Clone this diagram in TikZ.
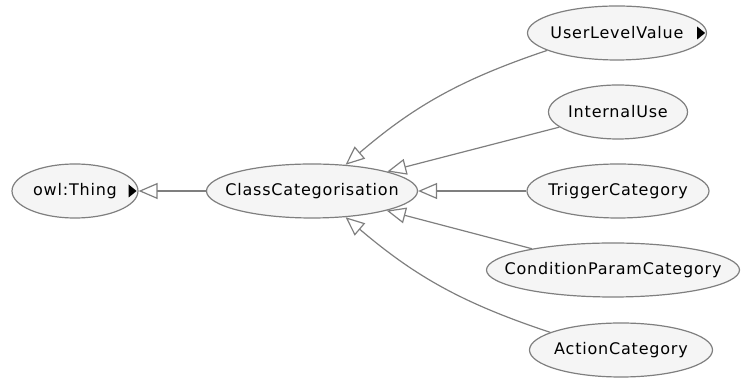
\documentclass[tikz,border=0pt]{standalone}
\usepackage{fontspec}
\setmainfont[LetterSpace=5]{DejaVu Sans}
\usepackage{tikz}
\usetikzlibrary{arrows.meta,shapes.geometric}
\definecolor{edgegray}{HTML}{7F7F7F}
\definecolor{nodefill}{HTML}{F5F5F5}
\tikzset{font={\fontsize{16pt}{19}\selectfont}}
\tikzstyle{classe}=[draw=edgegray,fill=nodefill,ellipse,line width=1.2pt,inner sep=0pt,minimum height=54pt,text=black]
\tikzstyle{isa}=[draw=edgegray,line width=1.2pt,-{Triangle[open,length=19pt,width=16pt]}]
\newcommand{\lbl}[1]{\makebox[0pt]{#1}}
\newcommand{\expandmark}[1]{\fill ([xshift=-10pt]#1.east) ++(0,6.5) -- ++(8,-6.5) -- ++(-8,-6.5) -- cycle;}

\begin{document}
\begin{tikzpicture}[x=1pt,y=1pt]
            \useasboundingbox (0,0) rectangle (741,379);
            \node[classe, minimum width=126pt] (thing) at (75,188) {\lbl{owl:Thing}};
            \node[classe, minimum width=211pt] (cc) at (312,188) {\lbl{ClassCategorisation}};
            %
            \node[classe, minimum width=179pt] (ulv) at (617,346) {\lbl{UserLevelValue}};
            \node[classe, minimum width=139pt] (iu) at (618,267) {\lbl{InternalUse}};
            \node[classe, minimum width=182pt] (tc) at (618,188) {\lbl{TriggerCategory}};
            \node[classe, minimum width=253pt] (cpc) at (613,109) {\lbl{ConditionParamCategory}};
            \node[classe, minimum width=183pt] (ac) at (621,29) {\lbl{ActionCategory}};
            %
            \expandmark{thing}
            \expandmark{ulv}
            %
            \path (cc) edge[isa] (thing);
            \path (ulv.194) edge[isa, bend right=11] (cc.38);
            \path (iu) edge[isa] (cc);
            \path (tc) edge[isa] (cc);
            \path (cpc) edge[isa] (cc);
            \path (ac.166) edge[isa, bend left=11] (cc.-38);
        \end{tikzpicture}
\end{document}
